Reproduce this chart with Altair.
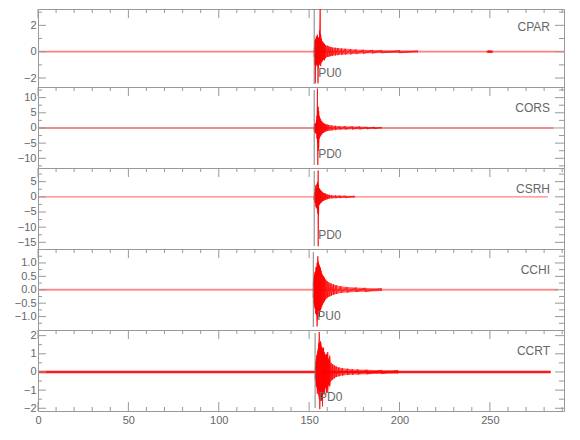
import altair as alt
import pandas as pd

FONT = "Liberation Sans"
TXT = "#666666"
FRAME = "#999999"
RED = "#ff0000"

# ---------------- data ----------------
stations = ["CPAR", "CORS", "CSRH", "CCHI", "CCRT"]
pick_labels = ["PU0", "PD0", "PD0", "PU0", "PD0"]
pick_times = [152.8, 152.8, 152.8, 152.3, 153.3]
trace_start = [0.5, 0.5, 0.5, 0.5, 0.5]
trace_end = [291.0, 285.7, 282.0, 287.6, 283.7]
noise_amp = [0.07, 0.17, 0.2, 0.035, 0.07]
band_colors = ["#ff0000", "#c00000", "#ff0000", "#ff0000", "#ff0000"]
band_opacity = [0.5, 0.85, 0.5, 0.45, 0.9]

x_domain = [0, 291]
x_major = [0, 50, 100, 150, 200, 250]
x_minor = [10, 20, 30, 40, 60, 70, 80, 90, 110, 120, 130, 140, 160, 170, 180, 190,
           210, 220, 230, 240, 260, 270, 280, 290]

y_domains = [(-2.68, 3.24), (-13.2, 13.5), (-17.2, 9.5), (-1.5, 1.52), (-2.15, 2.31)]
y_major = [[-2, 0, 2], [-10, -5, 0, 5, 10], [-15, -10, -5, 0, 5],
           [-1.0, -0.5, 0.0, 0.5, 1.0], [-2, -1, 0, 1, 2]]
y_minor = [[-1, 1, 3], [-12.5, -7.5, -2.5, 2.5, 7.5, 12.5], [-12.5, -7.5, -2.5, 2.5, 7.5],
           [-1.25, -0.75, -0.25, 0.25, 0.75, 1.25], [-1.5, -0.5, 0.5, 1.5]]
y_formats = ["d", "d", "d", ".1f", "d"]

# event envelopes (time, upper, lower)
cpar_t = [152.8, 153.1, 153.4, 153.7, 154.0, 154.3, 154.6, 154.9, 155.2, 155.5, 155.8, 156.1,
          156.4, 156.8, 157.2, 157.6, 158.0, 158.5, 159.0, 160, 161, 162, 163, 164.5, 166,
          168, 170, 173, 176, 180, 185, 190, 200, 210]
cpar_hi = [0.3, 0.8, 0.9, 1.0, 1.2, 1.0, 1.3, 1.1, 1.0, 1.1, 1.6, 3.3,
           1.3, 1.0, 0.8, 0.75, 0.65, 0.6, 0.5, 0.45, 0.4, 0.35, 0.32, 0.3, 0.28,
           0.25, 0.23, 0.2, 0.17, 0.14, 0.12, 0.11, 0.09, 0.07]
cpar_lo = [-0.4, -1.0, -2.4, -1.0, -0.9, -1.1, -1.0, -2.4, -1.2, -0.8, -1.0, -0.9,
           -1.1, -0.8, -0.75, -0.65, -0.6, -0.65, -0.5, -0.4, -0.38, -0.33, -0.3, -0.28, -0.26,
           -0.24, -0.22, -0.2, -0.17, -0.14, -0.12, -0.1, -0.09, -0.07]
cpar_burst_t = [248.5, 249.5, 250.5, 251.5]
cpar_burst_hi = [0.07, 0.1, 0.09, 0.06]
cpar_burst_lo = [-0.06, -0.1, -0.09, -0.06]

cors_t = [152.8, 153.1, 153.4, 153.7, 154.0, 154.3, 154.6, 154.8, 155.0, 155.3, 155.6, 156.0,
          156.4, 156.8, 157.4, 158.0, 158.6, 159.2, 160.0, 161.0, 162.5, 164.5, 167, 170,
          174, 178, 182, 186, 190]
cors_hi = [0.8, 1.3, 1.6, 1.4, 2.5, 4.0, 13.0, 6.0, 7.0, 5.5, 4.0, 3.3,
           2.8, 2.3, 2.0, 1.6, 1.4, 1.2, 1.1, 1.0, 0.8, 0.7, 0.6, 0.55,
           0.5, 0.45, 0.35, 0.3, 0.2]
cors_lo = [-0.8, -1.5, -1.3, -1.8, -2.0, -3.5, -5.0, -12.2, -7.5, -6.5, -3.5, -3.0,
           -2.6, -2.2, -1.8, -1.6, -1.3, -1.2, -1.0, -0.9, -0.8, -0.65, -0.55, -0.5,
           -0.45, -0.4, -0.35, -0.25, -0.2]

csrh_t = [152.8, 153.1, 153.4, 153.7, 154.0, 154.3, 154.6, 154.8, 155.0, 155.2, 155.5, 155.8,
          156.1, 156.4, 156.8, 157.4, 158.0, 158.6, 159.2, 160.0, 161.1, 162.5, 164.7, 167,
          170, 175]
csrh_hi = [0.8, 1.5, 2.5, 3.8, 3.0, 4.2, 4.9, 3.5, 8.7, 4.0, 2.9, 2.6,
           2.3, 2.2, 1.9, 1.6, 1.3, 1.2, 1.0, 0.8, 0.65, 0.55, 0.45, 0.4,
           0.33, 0.28]
csrh_lo = [-1.0, -1.6, -2.2, -3.2, -3.8, -3.5, -4.5, -5.5, -16.3, -6.0, -2.7, -2.5,
           -2.2, -2.0, -1.8, -1.5, -1.3, -1.1, -1.0, -0.8, -0.6, -0.5, -0.43, -0.38,
           -0.33, -0.28]

cchi_t = [152.3, 152.6, 152.9, 153.2, 153.5, 153.8, 154.1, 154.4, 154.6, 154.8, 155.1, 155.4,
          155.7, 156.0, 156.3, 156.6, 157.0, 157.5, 158.0, 158.5, 159.2, 160.0, 161, 162.2,
          163.5, 165, 167.6, 171, 176, 181, 190]
cchi_hi = [0.3, 0.45, 0.55, 0.65, 0.7, 0.85, 0.8, 1.0, 0.9, 1.25, 1.05, 0.95,
           0.9, 0.85, 0.8, 0.72, 0.62, 0.55, 0.5, 0.45, 0.38, 0.32, 0.27, 0.23,
           0.2, 0.17, 0.13, 0.1, 0.08, 0.07, 0.05]
cchi_lo = [-0.3, -0.5, -0.6, -0.7, -0.9, -0.75, -0.95, -1.37, -1.1, -0.9, -1.0, -0.85,
           -1.0, -0.8, -0.75, -0.7, -0.62, -0.55, -0.48, -0.43, -0.36, -0.3, -0.26, -0.22,
           -0.19, -0.16, -0.12, -0.1, -0.08, -0.07, -0.05]

ccrt_t = [153.4, 153.7, 153.9, 154.2, 154.5, 154.8, 155.0, 155.3, 155.6, 155.9, 156.2, 156.5,
          156.9, 157.2, 157.4, 157.7, 158.0, 158.3, 158.6, 159.0, 159.3, 159.6, 159.9, 160.3,
          160.6, 161.0, 161.4, 162.1, 163.0, 164.0, 165.0, 166.5, 168.5, 171.3, 174, 177,
          182, 190, 199]
ccrt_hi = [0.3, 0.55, 0.7, 0.9, 1.0, 1.15, 1.3, 1.6, 2.2, 1.5, 1.7, 1.6,
           1.4, 1.3, 1.2, 1.35, 1.3, 1.1, 1.0, 0.95, 0.9, 1.0, 0.9, 1.1,
           0.75, 0.65, 0.9, 0.5, 0.42, 0.35, 0.3, 0.25, 0.21, 0.18, 0.15, 0.14,
           0.12, 0.1, 0.09]
ccrt_lo = [-0.35, -0.5, -0.75, -0.85, -1.2, -1.0, -1.05, -1.3, -1.5, -2.05, -1.5, -1.4,
           -1.6, -1.3, -1.9, -1.2, -1.2, -1.25, -1.1, -0.9, -0.8, -1.15, -0.9, -1.15,
           -0.75, -0.7, -0.8, -0.5, -0.42, -0.35, -0.28, -0.24, -0.2, -0.17, -0.15, -0.14,
           -0.12, -0.1, -0.09]

events = [
    [(cpar_t, cpar_hi, cpar_lo), (cpar_burst_t, cpar_burst_hi, cpar_burst_lo)],
    [(cors_t, cors_hi, cors_lo)],
    [(csrh_t, csrh_hi, csrh_lo)],
    [(cchi_t, cchi_hi, cchi_lo)],
    [(ccrt_t, ccrt_hi, ccrt_lo)],
]

# ---------------- layout ----------------
W = 526
heights = [78, 81, 81, 81, 81]


def panel(i):
    H = heights[i]
    off = 81 - H
    last = i == len(stations) - 1
    xs = alt.Scale(domain=x_domain, nice=False, zero=False)
    ys = alt.Scale(domain=list(y_domains[i]), nice=False, zero=False)
    if last:
        X = alt.X("t:Q", scale=xs, axis=alt.Axis(values=x_major, ticks=False, tickSize=0, domain=False,
                                                 labelPadding=3, grid=False, title=None,
                                                 labelFlush=False, format="d"))
    else:
        X = alt.X("t:Q", scale=xs, axis=None)
    Y = alt.Y("v:Q", scale=ys, axis=alt.Axis(values=y_major[i], ticks=False, tickSize=0, domain=False,
                                             labelPadding=2, grid=False, title=None,
                                             format=y_formats[i], labelOverlap=False,
                                             minExtent=29, maxExtent=29))

    env_rows, zig_rows = [], []
    for s, (t, hi, lo) in enumerate(events[i]):
        for k in range(len(t)):
            env_rows.append({"t": t[k], "v": hi[k], "v2": lo[k], "seg": s})
            zig_rows.append({"t": t[k], "v": hi[k], "i": 2 * k, "seg": s})
            zig_rows.append({"t": t[k], "v": lo[k], "i": 2 * k + 1, "seg": s})
    env_df = pd.DataFrame(env_rows)
    zig_df = pd.DataFrame(zig_rows)

    band_df = pd.DataFrame({"t": [trace_start[i]], "t2": [trace_end[i]],
                            "v": [-noise_amp[i]], "v2": [noise_amp[i]]})
    band = alt.Chart(band_df).mark_rect(color=band_colors[i], opacity=band_opacity[i]).encode(
        x=X, x2="t2:Q", y=Y, y2="v2:Q")

    env = alt.Chart(env_df).mark_area(color=RED, opacity=0.6, clip=True).encode(
        x=X, y=Y, y2="v2:Q", detail="seg:N")
    zig = alt.Chart(zig_df).mark_line(color=RED, strokeWidth=0.8, opacity=0.9, clip=True).encode(
        x=X, y=Y, order="i:Q", detail="seg:N")

    pick_df = pd.DataFrame({"t": [pick_times[i]], "lab": [pick_labels[i]]})
    pick = alt.Chart(pick_df).mark_rule(color="#808080", strokeWidth=1).encode(
        x=X, y=alt.value(max(0, 3 - off)), y2=alt.value(78 - off))
    pick_txt = alt.Chart(pick_df).mark_text(align="left", baseline="alphabetic", dx=4,
                                            font=FONT, fontSize=12, color=TXT).encode(
        x=X, y=alt.value(71 - off), text="lab:N")

    st_df = pd.DataFrame({"lab": [stations[i]]})
    st_txt = alt.Chart(st_df).mark_text(align="right", baseline="alphabetic",
                                        font=FONT, fontSize=12, color=TXT).encode(
        x=alt.value(W - 14), y=alt.value(25 - off), text="lab:N")

    xmaj = pd.DataFrame({"t": x_major})
    xmin = pd.DataFrame({"t": x_minor})
    ymaj = pd.DataFrame({"v": y_major[i]})
    ymin = pd.DataFrame({"v": y_minor[i]})
    tick = dict(color=FRAME, strokeWidth=1)

    layers = [
        band, env, zig, pick, pick_txt, st_txt,
        alt.Chart(xmaj).mark_rule(**tick).encode(x=X, y=alt.value(0), y2=alt.value(9)),
        alt.Chart(xmin).mark_rule(**tick).encode(x=X, y=alt.value(0), y2=alt.value(4)),
        alt.Chart(ymaj).mark_rule(**tick).encode(y=Y, x=alt.value(0), x2=alt.value(8)),
        alt.Chart(ymin).mark_rule(**tick).encode(y=Y, x=alt.value(0), x2=alt.value(4)),
        alt.Chart(ymaj).mark_rule(**tick).encode(y=Y, x=alt.value(W), x2=alt.value(W - 9)),
        alt.Chart(ymin).mark_rule(**tick).encode(y=Y, x=alt.value(W), x2=alt.value(W - 5)),
    ]
    if last:
        layers += [
            alt.Chart(xmaj).mark_rule(**tick).encode(x=X, y=alt.value(H), y2=alt.value(H - 9)),
            alt.Chart(xmin).mark_rule(**tick).encode(x=X, y=alt.value(H), y2=alt.value(H - 4)),
        ]
    return alt.layer(*layers).properties(width=W, height=H)


chart = alt.vconcat(*[panel(i) for i in range(len(stations))], spacing=0, bounds="flush").properties(
    padding={"left": 0, "top": 0, "right": 5, "bottom": 5}
).configure_view(stroke=FRAME, strokeWidth=1).configure_axis(
    labelFont=FONT, labelFontSize=11, labelColor=TXT
)

chart.save("out.html", embed_options={"renderer": "svg", "actions": False})
